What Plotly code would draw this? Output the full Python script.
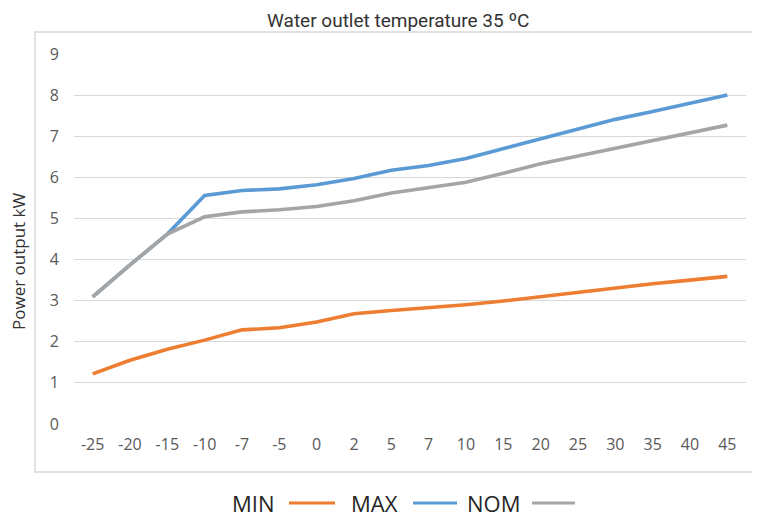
import plotly.graph_objects as go

categories = ["-25", "-20", "-15", "-10", "-7", "-5", "0", "2", "5", "7",
              "10", "15", "20", "25", "30", "35", "40", "45"]
min_values = [1.22, 1.55, 1.82, 2.04, 2.29, 2.34, 2.48, 2.68, 2.76, 2.82,
              2.90, 2.99, 3.10, 3.21, 3.31, 3.41, 3.50, 3.59]
max_values = [3.09, 3.87, 4.62, 5.56, 5.68, 5.72, 5.82, 5.97, 6.17, 6.29,
              6.46, 6.70, 6.94, 7.17, 7.41, 7.60, 7.80, 8.00]
nom_values = [3.09, 3.87, 4.62, 5.04, 5.16, 5.21, 5.29, 5.43, 5.62, 5.74,
              5.88, 6.10, 6.33, 6.52, 6.71, 6.88, 7.07, 7.27]
y_ticks = [0, 1, 2, 3, 4, 5, 6, 7, 8, 9]
series_names = ["MIN", "MAX", "NOM"]
title_text = "Water outlet temperature 35 ºC"
y_title = "Power output kW"

colors = ["#ED7D31", "#5B9BD5", "#A5A5A5"]

OFF = 8  # page body margin
W, H = 752, 511
L, T = 74 - OFF, 54 - OFF
pw, ph = 672, 370
R, B = W - L - pw, H - T - ph


def px_x(x):
    return (x - OFF - L) / pw


def px_y(y):
    return (T + ph - (y - OFF)) / ph


fig = go.Figure()
for name, vals, col in zip(series_names, [min_values, max_values, nom_values], colors):
    fig.add_trace(go.Scatter(x=categories, y=vals, mode="lines", name=name,
                             line=dict(color=col, width=3.6),
                             showlegend=False))

fig.update_layout(
    width=W, height=H,
    margin=dict(l=L, r=R, t=T, b=B),
    paper_bgcolor="white", plot_bgcolor="white",
    font=dict(family="Open Sans", color="#595959"),
    xaxis=dict(type="category", showgrid=False, zeroline=False, showline=False,
               ticks="", tickfont=dict(size=16, color="#595959"),
               ticklabelstandoff=9, range=[-0.5, len(categories) - 0.5]),
    yaxis=dict(range=[0, 9], tickvals=y_ticks, showgrid=True, gridcolor="#D9D9D9",
               gridwidth=1.3, zeroline=False, showline=False, ticks="",
               tickfont=dict(size=16, color="#595959"), ticklabelstandoff=14),
)

# outer chart border
fig.add_shape(type="rect", xref="paper", yref="paper",
              x0=px_x(35), x1=px_x(770), y0=px_y(472), y1=px_y(32),
              line=dict(color="#D9D9D9", width=1.5), fillcolor="rgba(0,0,0,0)", layer="below")

fig.add_annotation(text=title_text, xref="paper", yref="paper",
                   x=px_x(398), y=px_y(OFF), xanchor="center", yanchor="top",
                   showarrow=False, borderpad=0,
                   font=dict(family="Roboto", size=19, color="#333333"))
fig.add_annotation(text=y_title, xref="paper", yref="paper",
                   x=px_x(18), y=px_y(262), xanchor="center", yanchor="middle",
                   showarrow=False, textangle=-90,
                   font=dict(family="Open Sans", size=17, color="#333333"))

# legend: label followed by line sample
legend_text_x = [253, 374, 493]
legend_line_x = [(289, 335), (413, 457), (532, 575)]
ly = 503
for name, tx, (lx0, lx1), col in zip(series_names, legend_text_x, legend_line_x, colors):
    fig.add_annotation(text=name, xref="paper", yref="paper", x=px_x(tx), y=px_y(ly),
                       xanchor="center", yanchor="middle",
                       showarrow=False, font=dict(family="Open Sans", size=22, color="#262626"))
    fig.add_shape(type="line", xref="paper", yref="paper",
                  x0=px_x(lx0), x1=px_x(lx1), y0=px_y(ly), y1=px_y(ly),
                  line=dict(color=col, width=3))

fig.write_html("out.html")
